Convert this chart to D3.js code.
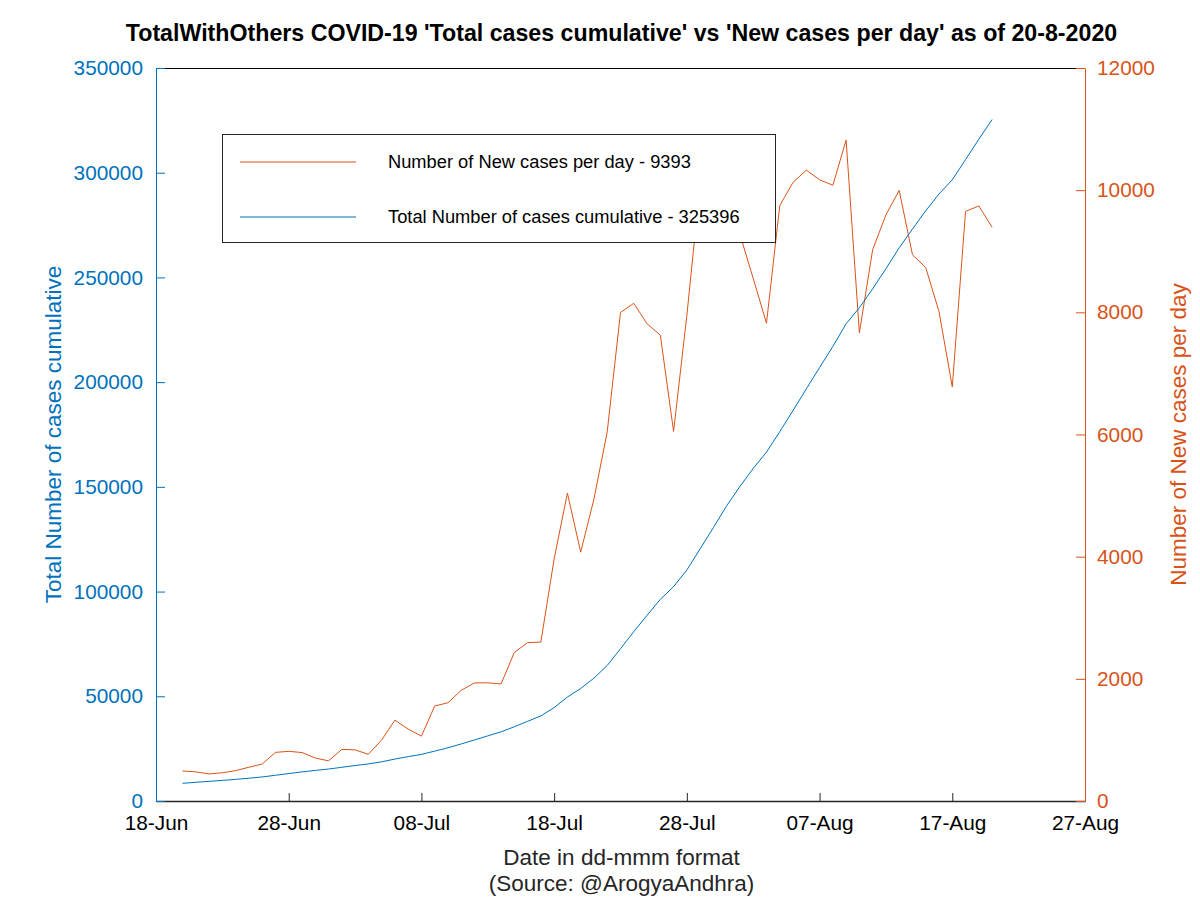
<!DOCTYPE html>
<html>
<head>
<meta charset="utf-8">
<script src="https://cdn.jsdelivr.net/npm/d3@7"></script>
<style>
  html, body { margin: 0; padding: 0; background: #fff; }
  svg { display: block; font-family: "Liberation Sans", Arial, Helvetica, sans-serif; }
</style>
</head>
<body>
<svg id="chart" width="1200" height="900"></svg>
<script>
// ---- data ----
const dates = [
  "2020-06-20","2020-06-21","2020-06-22","2020-06-23","2020-06-24","2020-06-25","2020-06-26","2020-06-27","2020-06-28","2020-06-29","2020-06-30",
  "2020-07-01","2020-07-02","2020-07-03","2020-07-04","2020-07-05","2020-07-06","2020-07-07","2020-07-08","2020-07-09","2020-07-10",
  "2020-07-11","2020-07-12","2020-07-13","2020-07-14","2020-07-15","2020-07-16","2020-07-17","2020-07-18","2020-07-19","2020-07-20",
  "2020-07-21","2020-07-22","2020-07-23","2020-07-24","2020-07-25","2020-07-26","2020-07-27","2020-07-28","2020-07-29","2020-07-30","2020-07-31",
  "2020-08-01","2020-08-02","2020-08-03","2020-08-04","2020-08-05","2020-08-06","2020-08-07","2020-08-08","2020-08-09","2020-08-10",
  "2020-08-11","2020-08-12","2020-08-13","2020-08-14","2020-08-15","2020-08-16","2020-08-17","2020-08-18","2020-08-19","2020-08-20"
];
const newCases = [
  491, 477, 443, 462, 497, 553, 605, 796, 813, 793, 704,
  657, 845, 837, 765, 998, 1322, 1178, 1062, 1555, 1608,
  1813, 1933, 1935, 1916, 2432, 2593, 2602, 3963, 5041, 4074,
  4944, 6045, 7998, 8147, 7813, 7627, 6051, 7948, 10093, 10167, 10376,
  9276, 8555, 7822, 9747, 10128, 10328, 10171, 10080, 10820, 7665,
  9024, 9597, 9996, 8943, 8732, 8012, 6780, 9652, 9742, 9393
];
const totalCases = [
  8452, 8929, 9372, 9834, 10331, 10884, 11489, 12285, 13098, 13891, 14595,
  15252, 16097, 16934, 17699, 18697, 20019, 21197, 22259, 23814, 25422,
  27235, 29168, 31103, 33019, 35451, 38044, 40646, 44609, 49650, 53724,
  58668, 64713, 72711, 80858, 88671, 96298, 102349, 110297, 120390, 130557, 140933,
  150209, 158764, 166586, 176333, 186461, 196789, 206960, 217040, 227860, 235525,
  244549, 254146, 264142, 273085, 281817, 289829, 296609, 306261, 316003, 325396
];
const xTickDates = ["2020-06-18","2020-06-28","2020-07-08","2020-07-18","2020-07-28","2020-08-07","2020-08-17","2020-08-27"];
const leftTicks = [0, 50000, 100000, 150000, 200000, 250000, 300000, 350000];
const rightTicks = [0, 2000, 4000, 6000, 8000, 10000, 12000];
const titleText = "TotalWithOthers COVID-19 'Total cases cumulative' vs 'New cases per day' as of 20-8-2020";
const legendLabels = ["Number of New cases per day - 9393", "Total Number of cases cumulative - 325396"];

// ---- setup ----
const parse = d3.timeParse("%Y-%m-%d");
const fmt = d3.timeFormat("%d-%b");
const BLUE = "#0072BD", ORANGE = "#D95319", AXIS = "#262626";
const L = 156, R = 1085, T = 68, B = 801;
const FONT = "Liberation Sans, Arial, sans-serif";

const svg = d3.select("#chart");
const x = d3.scaleTime().domain([parse(xTickDates[0]), parse(xTickDates[xTickDates.length - 1])]).range([L, R]);
const yL = d3.scaleLinear().domain([0, 350000]).range([B, T]);
const yR = d3.scaleLinear().domain([0, 12000]).range([B, T]);

const rows = dates.map((d, i) => ({ date: parse(d), n: newCases[i], t: totalCases[i] }));

// lines
svg.append("path").datum(rows)
  .attr("fill", "none").attr("stroke", ORANGE).attr("stroke-width", 1)
  .attr("d", d3.line().x(d => x(d.date)).y(d => yR(d.n)));
svg.append("path").datum(rows)
  .attr("fill", "none").attr("stroke", BLUE).attr("stroke-width", 1)
  .attr("d", d3.line().x(d => x(d.date)).y(d => yL(d.t)));

// top border
svg.append("line").attr("x1", L).attr("x2", R).attr("y1", T + 0.5).attr("y2", T + 0.5)
  .attr("stroke", "#000").attr("stroke-width", 1);

// bottom axis
const xAxis = d3.axisBottom(x).tickValues(xTickDates.map(parse)).tickFormat(fmt).tickSizeInner(-8).tickSizeOuter(0).tickPadding(14);
const gx = svg.append("g").attr("transform", `translate(0,${B})`).call(xAxis);
gx.select(".domain").attr("stroke", AXIS).attr("stroke-width", 1.5);
gx.selectAll(".tick line").attr("stroke", AXIS);
gx.selectAll(".tick text").attr("fill", "#000").attr("font-size", 20.8).attr("font-family", FONT);

// left axis
const lAxis = d3.axisLeft(yL).tickValues(leftTicks).tickFormat(d3.format("d")).tickSizeInner(-9).tickSizeOuter(0).tickPadding(13);
const gl = svg.append("g").attr("transform", `translate(${L},0)`).call(lAxis);
gl.select(".domain").attr("stroke", BLUE);
gl.selectAll(".tick line").attr("stroke", BLUE);
gl.selectAll(".tick text").attr("fill", BLUE).attr("font-size", 20.8).attr("font-family", FONT);

// right axis
const rAxis = d3.axisRight(yR).tickValues(rightTicks).tickFormat(d3.format("d")).tickSizeInner(-9).tickSizeOuter(0).tickPadding(12);
const gr = svg.append("g").attr("transform", `translate(${R},0)`).call(rAxis);
gr.select(".domain").attr("stroke", ORANGE);
gr.selectAll(".tick line").attr("stroke", ORANGE);
gr.selectAll(".tick text").attr("fill", ORANGE).attr("font-size", 20.8).attr("font-family", FONT);

// title
svg.append("text").attr("x", (L + R) / 2 + 1).attr("y", 41).attr("text-anchor", "middle")
  .attr("font-weight", "bold").attr("font-size", 23.2).attr("fill", "#000").text(titleText);

// axis labels
svg.append("text").attr("x", (L + R) / 2 + 1).attr("y", 865).attr("text-anchor", "middle")
  .attr("font-size", 22.5).attr("fill", "#262626").text("Date in dd-mmm format");
svg.append("text").attr("x", (L + R) / 2 + 1).attr("y", 891).attr("text-anchor", "middle")
  .attr("font-size", 22.5).attr("fill", "#262626").text("(Source: @ArogyaAndhra)");
svg.append("text").attr("transform", `translate(61,${(T + B) / 2}) rotate(-90)`).attr("text-anchor", "middle")
  .attr("font-size", 22.5).attr("fill", BLUE).text("Total Number of cases cumulative");
svg.append("text").attr("transform", `translate(1186,${(T + B) / 2}) rotate(-90)`).attr("text-anchor", "middle")
  .attr("font-size", 22.5).attr("fill", ORANGE).text("Number of New cases per day");

// legend
const lg = svg.append("g");
lg.append("rect").attr("x", 222.5).attr("y", 134.5).attr("width", 553).attr("height", 108)
  .attr("fill", "#fff").attr("stroke", AXIS).attr("stroke-width", 1);
[ORANGE, BLUE].forEach((c, i) => {
  const yy = 162 + i * 55;
  lg.append("line").attr("x1", 240).attr("x2", 356).attr("y1", yy).attr("y2", yy).attr("stroke", c).attr("stroke-width", 1);
  lg.append("text").attr("x", 388).attr("y", yy).attr("dy", "0.35em").attr("font-size", 18.3).attr("fill", "#000").text(legendLabels[i]);
});
</script>
</body>
</html>
